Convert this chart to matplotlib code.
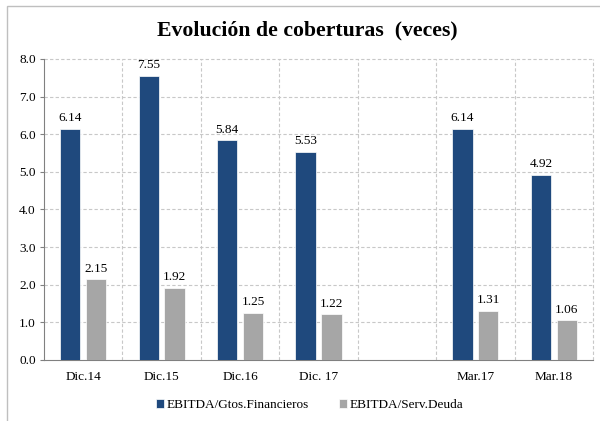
import matplotlib
matplotlib.use('Agg')
from matplotlib import pyplot as plt
from matplotlib.patches import Rectangle
import numpy as np

categories = ['Dic.14', 'Dic.15', 'Dic.16', 'Dic. 17', '', 'Mar.17', 'Mar.18']
gtos_financieros = [6.14, 7.55, 5.84, 5.53, None, 6.14, 4.92]
serv_deuda = [2.15, 1.92, 1.25, 1.22, None, 1.31, 1.06]
legend_labels = ['EBITDA/Gtos.Financieros', 'EBITDA/Serv.Deuda']
title = 'Evolución de coberturas  (veces)'

plt.rcParams['font.family'] = ['Liberation Serif', 'DejaVu Serif']

blue = '#1F497D'
gray = '#A6A6A6'
grid_c = '#C8C8C8'
fs = 9.5

fig = plt.figure(figsize=(6.0, 4.21), dpi=100)
fig.patches.append(Rectangle((7 / 600, -0.1), 1.2, 1 - 6 / 421 + 0.1,
                             transform=fig.transFigure, fill=False,
                             edgecolor='#BFBFBF', linewidth=1.0))
ax = fig.add_axes([44 / 600, 1 - 360 / 421, 549 / 600, 301 / 421])

x = np.arange(len(categories))
w = 0.26
off = 0.165
for i in range(len(categories)):
    if gtos_financieros[i] is None:
        continue
    ax.bar(x[i] - off, gtos_financieros[i], width=w, color=blue,
           edgecolor='white', linewidth=0.5, zorder=3,
           label=legend_labels[0] if i == 0 else None)
    ax.bar(x[i] + off, serv_deuda[i], width=w, color=gray,
           edgecolor='white', linewidth=0.5, zorder=3,
           label=legend_labels[1] if i == 0 else None)
    ax.text(x[i] - off, gtos_financieros[i] + 0.12, f'{gtos_financieros[i]:.2f}',
            ha='center', va='bottom', fontsize=fs)
    ax.text(x[i] + off, serv_deuda[i] + 0.12, f'{serv_deuda[i]:.2f}',
            ha='center', va='bottom', fontsize=fs)

ax.set_xlim(-0.5, len(categories) - 0.5)
ax.set_ylim(0, 8)
ax.set_yticks(np.arange(0, 8.5, 1.0))
ax.set_yticklabels([f'{v:.1f}' for v in np.arange(0, 8.5, 1.0)], fontsize=fs)
ax.set_xticks(x)
ax.set_xticklabels(categories, fontsize=fs)
ax.tick_params(axis='x', length=0, pad=8)
ax.tick_params(axis='y', length=3, color='#808080', pad=3)

for v in np.arange(1, 8.5, 1.0):
    ax.axhline(v, color=grid_c, linestyle=(0, (3, 2)), linewidth=0.8,
               zorder=1, clip_on=False)
for b in np.arange(0.5, len(categories), 1.0):
    ax.axvline(b, color=grid_c, linestyle=(0, (3, 2)), linewidth=0.8,
               zorder=1, clip_on=False)

for s in ['top', 'right']:
    ax.spines[s].set_visible(False)
ax.spines['left'].set_color('#808080')
ax.spines['bottom'].set_color('#808080')

fig.text(307 / 600, 1 - 30 / 421, title, ha='center', va='center',
         fontsize=15.7, fontweight='bold')
fig.legend(loc='center', bbox_to_anchor=(310 / 600, 1 - 405 / 421), ncol=2,
           frameon=False, fontsize=fs, handlelength=0.6, handleheight=0.6,
           handletextpad=0.2, columnspacing=2.3)

fig.savefig('out.png', dpi=100)
